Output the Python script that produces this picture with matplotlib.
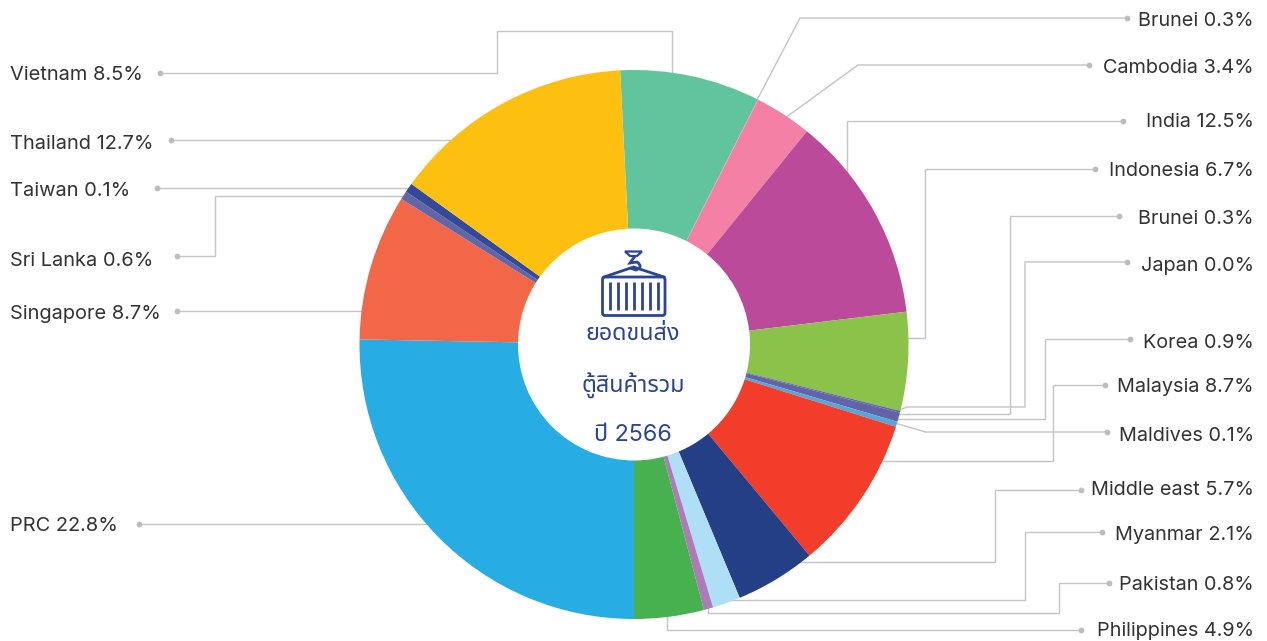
import matplotlib
matplotlib.use('Agg')
import matplotlib.pyplot as plt
from matplotlib.patches import FancyBboxPatch, Polygon, PathPatch
from matplotlib.path import Path

W, H = 1267, 641

# slice shares, clockwise from the top
slice_names = ['Vietnam', 'Brunei', 'Cambodia', 'India', 'Indonesia', 'Brunei', 'Japan', 'Korea',
               'Maldives', 'Malaysia', 'Middle east', 'Myanmar', 'Pakistan', 'Philippines',
               'PRC', 'Singapore', 'Sri Lanka', 'Taiwan', 'Thailand']
slice_values = [8.25, 0.03, 3.37, 12.25, 5.8, 0.1, 0.0, 0.55, 0.3, 9.12, 4.75, 1.64, 0.55, 4.1,
                25.3, 8.6, 0.5, 0.55, 14.25]
slice_colors = ['#62C49C', '#F480A6', '#F480A6', '#BC4A9B', '#8BC34A', '#6264A7', '#6264A7', '#6264A7',
                '#4FA9DC', '#F23D2B', '#243F85', '#AEDFF7', '#AE7AB8', '#48B14F',
                '#27ADE4', '#F26748', '#6066A6', '#34499A', '#FDC010']

left_labels = ['Vietnam 8.5%', 'Thailand 12.7%', 'Taiwan 0.1%', 'Sri Lanka 0.6%', 'Singapore 8.7%', 'PRC 22.8%']
left_label_y = [75, 144, 191, 261, 314, 526]
right_labels = ['Brunei 0.3%', 'Cambodia 3.4%', 'India 12.5%', 'Indonesia 6.7%', 'Brunei 0.3%', 'Japan 0.0%',
                'Korea 0.9%', 'Malaysia 8.7%', 'Maldives 0.1%', 'Middle east 5.7%', 'Myanmar 2.1%',
                'Pakistan 0.8%', 'Philippines 4.9%']
right_label_y = [21, 68, 122, 171, 219, 266, 343, 387, 436, 490, 535, 585, 631]

center_lines = ['ยอดขนส่ง', 'ตู้สินค้ารวม', 'ปี 2566']
center_y = [334, 386, 435]

# leader routes in picture pixels, dot end first
leaders = [
    [(160, 73), (497, 73), (497, 31), (672, 31), (672, 80)],
    [(171, 140), (455, 140)],
    [(157, 188), (410, 188)],
    [(177, 256), (215, 256), (215, 196), (406, 196)],
    [(177, 311), (368, 311)],
    [(139, 524), (430, 524)],
    [(1127, 18), (800, 18), (757, 100)],
    [(1089, 65), (858, 65), (785, 118)],
    [(1123, 121), (847, 121), (847, 175)],
    [(1095, 169), (925, 169), (925, 338), (900, 338)],
    [(1119, 216), (1010, 216), (1010, 413.5), (895, 413.5)],
    [(1127, 262), (1025, 262), (1025, 407), (907, 407), (897, 411)],
    [(1130, 339), (1045, 339), (1045, 419), (893, 419)],
    [(1105, 385), (1053, 385), (1053, 461), (880, 461)],
    [(1107, 432), (925.5, 432), (895, 423)],
    [(1081, 490), (995, 490), (995, 562), (800, 562)],
    [(1102, 532), (1025, 532), (1025, 600), (730, 600)],
    [(1109, 583), (1059, 583), (1059, 613), (708, 613), (708, 600)],
    [(1081, 630), (667, 630), (667, 610)],
]


def py(y):
    return H - y


plt.rcParams['font.family'] = ['Inter', 'DejaVu Sans']

fig = plt.figure(figsize=(W / 100, H / 100), dpi=100)
ax = fig.add_axes([0, 0, 1, 1])

for pts in leaders:
    ax.plot([p[0] for p in pts], [py(p[1]) for p in pts], color='#C4C4C4', lw=1.0, zorder=1)
    ax.plot(pts[0][0], py(pts[0][1]), 'o', color='#BDBDBD', ms=4.2, mew=0, zorder=1)

ax.pie(slice_values, colors=slice_colors, startangle=92.9, counterclock=False,
       center=(634, py(344.5)), radius=274.5, frame=True,
       wedgeprops=dict(width=158.5, linewidth=0, zorder=2))
ax.set_xlim(0, W)
ax.set_ylim(0, H)
ax.set_aspect('auto')
ax.axis('off')

for txt, y in zip(left_labels, left_label_y):
    ax.text(10, py(y), txt, fontsize=14.4, color='#333333', ha='left', va='center')
for txt, y in zip(right_labels, right_label_y):
    ax.text(1254, py(y), txt, fontsize=14.3, color='#333333', ha='right', va='center')

blue = '#2B4596'
for txt, y in zip(center_lines, center_y):
    ax.text(633, py(y), txt, fontsize=16.8, color=blue, ha='center', va='center',
            family=['Inter', 'Noto Sans Thai', 'DejaVu Sans'])

# container icon
ax.add_patch(FancyBboxPatch((602.5, py(315.5)), 62.5, 38.5, boxstyle='round,pad=0,rounding_size=2.5',
                            fc='none', ec=blue, lw=2, zorder=3))
for x in [609.5, 617.5, 625.5, 633.5, 641.5, 649.5, 657.5]:
    ax.plot([x, x], [py(282), py(310)], color=blue, lw=2, zorder=3, solid_capstyle='butt')
ax.plot([604, 633.5, 664], [py(277), py(267), py(277)], color=blue, lw=2, zorder=3)
ax.add_patch(Polygon([(625, py(251.5)), (642, py(251.5)), (637, py(256)), (630, py(256))], closed=True,
                     fc='none', ec=blue, lw=1.6, zorder=3))
hook = Path([(635, py(256)), (630, py(263)), (637, py(262)), (644, py(267)), (636, py(270)), (630, py(268))],
            [Path.MOVETO, Path.LINETO, Path.LINETO, Path.CURVE3, Path.CURVE3, Path.LINETO])
ax.add_patch(PathPatch(hook, fc='none', ec=blue, lw=2, zorder=3))

fig.savefig('out.png', dpi=100)
